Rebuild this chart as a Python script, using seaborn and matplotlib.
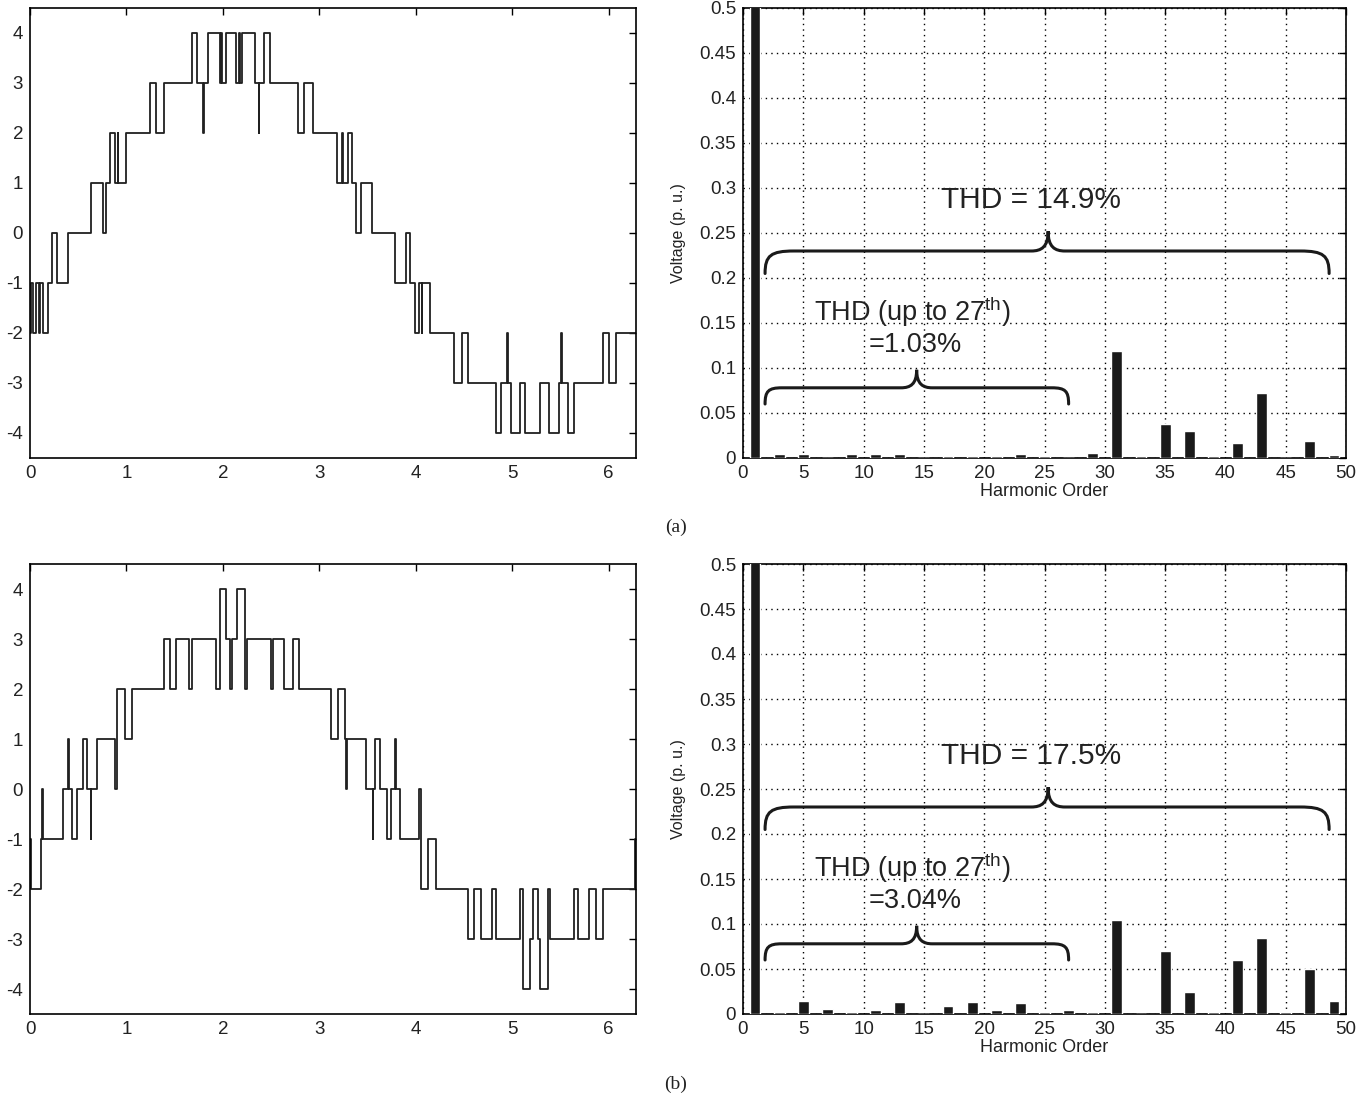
import numpy as np
import pandas as pd
import matplotlib
matplotlib.use("Agg")
import matplotlib.pyplot as plt
import seaborn as sns
from matplotlib.path import Path
from matplotlib.patches import PathPatch

# ---------------- data ----------------
# staircase waveform (a): switching instants (rad) and level after each instant
wave_a_x = [0.000, 0.007, 0.034, 0.059, 0.097, 0.105, 0.138, 0.190, 0.224, 0.276,
            0.397, 0.628, 0.752, 0.793, 0.828, 0.879, 0.910, 0.916, 0.993, 1.241,
            1.310, 1.386, 1.676, 1.731, 1.793, 1.800, 1.845, 1.966, 1.985, 1.992,
            2.034, 2.138, 2.170, 2.176, 2.197, 2.328, 2.372, 2.378, 2.431, 2.490,
            2.776, 2.845, 2.931, 3.186, 3.231, 3.248, 3.293, 3.341, 3.379, 3.428,
            3.541, 3.783, 3.903, 3.945, 3.990, 4.034, 4.060, 4.066, 4.145, 4.393,
            4.483, 4.541, 4.828, 4.886, 4.945, 4.951, 4.990, 5.076, 5.128, 5.283,
            5.379, 5.483, 5.510, 5.516, 5.576, 5.645, 5.938, 6.000, 6.076]
wave_a_y = [-2, -1, -2, -1, -2, -1, -2, -1, 0, -1,
            0, 1, 0, 1, 2, 1, 2, 1, 2, 3,
            2, 3, 4, 3, 2, 3, 4, 3, 4, 3,
            4, 3, 4, 3, 4, 3, 2, 3, 4, 3,
            2, 3, 2, 1, 2, 1, 2, 1, 0, 1,
            0, -1, 0, -1, -2, -1, -2, -1, -2, -3,
            -2, -3, -4, -3, -2, -3, -4, -3, -4, -3,
            -4, -3, -2, -3, -4, -3, -2, -3, -2]

# staircase waveform (b)
wave_b_x = [0.000, 0.007, 0.110, 0.128, 0.134, 0.338, 0.397, 0.402, 0.431, 0.483,
            0.545, 0.593, 0.628, 0.633, 0.690, 0.879, 0.903, 0.983, 1.059, 1.386,
            1.448, 1.510, 1.648, 1.683, 1.931, 1.966, 2.034, 2.069, 2.097, 2.145,
            2.224, 2.248, 2.500, 2.524, 2.638, 2.724, 2.786, 3.120, 3.197, 3.266,
            3.276, 3.283, 3.483, 3.552, 3.558, 3.576, 3.628, 3.697, 3.748, 3.783,
            3.790, 3.834, 4.034, 4.059, 4.128, 4.207, 4.541, 4.600, 4.679, 4.793,
            4.834, 5.076, 5.110, 5.179, 5.214, 5.266, 5.290, 5.369, 5.393, 5.645,
            5.679, 5.793, 5.869, 5.938, 6.276]
wave_b_y = [-1, -2, -1, 0, -1, 0, 1, 0, -1, 0,
            1, 0, -1, 0, 1, 0, 2, 1, 2, 3,
            2, 3, 2, 3, 2, 4, 3, 2, 3, 4,
            2, 3, 2, 3, 2, 3, 2, 1, 2, 1,
            0, 1, 0, -1, 0, 1, 0, -1, 0, 1,
            0, -1, 0, -2, -1, -2, -3, -2, -3, -2,
            -3, -2, -4, -3, -2, -3, -4, -2, -3, -2,
            -3, -2, -3, -2, -1]

# harmonic spectra (p.u.)
harmonics = [1, 3, 5, 7, 9, 11, 13, 15, 17, 19, 21, 23, 25,
             27, 29, 31, 33, 35, 37, 39, 41, 43, 45, 47, 49]
spec_a = [1.0, 0.004, 0.004, 0.0, 0.004, 0.004, 0.004, 0.0, 0.002, 0.002, 0.002, 0.004, 0.002,
          0.0, 0.006, 0.119, 0.002, 0.038, 0.030, 0.002, 0.017, 0.072, 0.0, 0.019, 0.003]
spec_b = [1.0, 0.002, 0.015, 0.006, 0.002, 0.004, 0.013, 0.0, 0.009, 0.013, 0.004, 0.012, 0.002,
          0.004, 0.002, 0.105, 0.0, 0.070, 0.024, 0.002, 0.060, 0.085, 0.002, 0.050, 0.014]

thd_total = ["THD = 14.9%", "THD = 17.5%"]
thd_27 = ["=1.03%", "=3.04%"]
panel_labels = ["(a)", "(b)"]

wave_xticks = [0, 1, 2, 3, 4, 5, 6]
wave_yticks = [-4, -3, -2, -1, 0, 1, 2, 3, 4]
spec_xticks = [0, 5, 10, 15, 20, 25, 30, 35, 40, 45, 50]
spec_yticks = [0, 0.05, 0.1, 0.15, 0.2, 0.25, 0.3, 0.35, 0.4, 0.45, 0.5]
spec_yticklabels = ["0", "0.05", "0.1", "0.15", "0.2", "0.25", "0.3", "0.35", "0.4", "0.45", "0.5"]

# ---------------- style ----------------
sns.set_theme(style="white")
plt.rcParams["font.family"] = ["Liberation Sans", "DejaVu Sans"]
plt.rcParams["mathtext.fontset"] = "custom"
plt.rcParams["mathtext.rm"] = "Liberation Sans"
plt.rcParams["axes.unicode_minus"] = False
plt.rcParams["axes.edgecolor"] = "black"
plt.rcParams["axes.linewidth"] = 1.2

W, H = 1366, 1101
fig = plt.figure(figsize=(W / 100, H / 100), dpi=100)
fig.patch.set_facecolor("white")

LINE = "#202020"
BAR = "#1a1a1a"


def add_ax(x0, x1, ytop, ybot):
    return fig.add_axes([x0 / W, 1 - ybot / H, (x1 - x0) / W, (ybot - ytop) / H])


def style_ticks(ax):
    ax.tick_params(direction="in", top=True, right=True, length=5, width=1,
                   colors="black", labelsize=13.5, pad=5, labelcolor="#222222")
    for s in ax.spines.values():
        s.set_color("black")
        s.set_linewidth(1.2)


def brace(ax, x0, x1, xt, ye, ym, yt, r1, r2):
    verts = [(x0, ye),
             (x0, ye + 0.8 * (ym - ye)), (x0 + 0.2 * r1, ym), (x0 + r1, ym),
             (xt - r2, ym),
             (xt - 0.4 * r2, ym), (xt, ym + 0.2 * (yt - ym)), (xt, yt),
             (xt, ym + 0.2 * (yt - ym)), (xt + 0.4 * r2, ym), (xt + r2, ym),
             (x1 - r1, ym),
             (x1 - 0.2 * r1, ym), (x1, ye + 0.8 * (ym - ye)), (x1, ye)]
    codes = [Path.MOVETO,
             Path.CURVE4, Path.CURVE4, Path.CURVE4,
             Path.LINETO,
             Path.CURVE4, Path.CURVE4, Path.CURVE4,
             Path.CURVE4, Path.CURVE4, Path.CURVE4,
             Path.LINETO,
             Path.CURVE4, Path.CURVE4, Path.CURVE4]
    ax.add_patch(PathPatch(Path(verts, codes), fill=False, lw=2.2,
                           edgecolor="#1a1a1a", capstyle="round", zorder=5))


rows = [(8, 458), (564, 1014)]
waves = [(wave_a_x, wave_a_y), (wave_b_x, wave_b_y)]
specs = [spec_a, spec_b]
label_y = [527, 1084]

for i in range(2):
    ytop, ybot = rows[i]
    # ---- waveform ----
    ax = add_ax(30, 636, ytop, ybot)
    wx = list(waves[i][0]) + [2 * np.pi]
    wy = list(waves[i][1]) + [waves[i][1][-1]]
    dfw = pd.DataFrame({"t": wx, "v": wy})
    sns.lineplot(data=dfw, x="t", y="v", ax=ax, drawstyle="steps-post",
                 color=LINE, lw=1.3, estimator=None, sort=False)
    ax.set_xlim(0, 2 * np.pi)
    ax.set_ylim(-4.5, 4.5)
    ax.set_xticks(wave_xticks)
    ax.set_yticks(wave_yticks)
    ax.set_yticklabels([str(v) for v in wave_yticks])
    ax.set_xlabel("")
    ax.set_ylabel("")
    style_ticks(ax)

    # ---- spectrum ----
    ax2 = add_ax(743, 1346, ytop, ybot)
    dfs = pd.DataFrame({"h": harmonics, "v": specs[i]})
    sns.barplot(data=dfs, x="h", y="v", ax=ax2, native_scale=True, width=0.45,
                color=BAR, saturation=1, errorbar=None, zorder=3)
    ax2.set_xlim(0, 50)
    ax2.set_ylim(0, 0.5)
    ax2.set_xticks(spec_xticks)
    ax2.set_xticklabels([str(v) for v in spec_xticks])
    ax2.set_yticks(spec_yticks)
    ax2.set_yticklabels(spec_yticklabels)
    ax2.grid(True, linestyle=(0, (1, 3)), color="black", lw=1.0, zorder=1)
    ax2.set_axisbelow(True)
    style_ticks(ax2)
    ax2.set_xlabel("Harmonic Order", fontsize=13, color="#222222")
    ax2.xaxis.set_label_coords(0.5, -0.055)
    ax2.set_ylabel("Voltage (p. u.)", fontsize=11.5, color="#222222")
    ax2.yaxis.set_label_coords(-0.095, 0.5)

    brace(ax2, 1.83, 48.6, 25.3, 0.205, 0.230, 0.252, 2.4, 1.4)
    brace(ax2, 1.83, 27.0, 14.4, 0.060, 0.078, 0.098, 1.4, 1.3)
    ax2.text(23.9, 0.287, thd_total[i], fontsize=21.5, ha="center", va="center",
             color="#222222", zorder=6)
    ax2.text(14.0, 0.163, r"THD (up to 27$^{\mathregular{th}}$)", fontsize=19.5,
             ha="center", va="center", color="#222222", zorder=6)
    ax2.text(14.3, 0.126, thd_27[i], fontsize=19.5, ha="center", va="center",
             color="#222222", zorder=6)

    fig.text(676 / W, 1 - label_y[i] / H, panel_labels[i], fontsize=14,
             family=["Liberation Serif", "DejaVu Serif"], ha="center", va="center",
             color="#222222")

fig.savefig("out.png", dpi=100, facecolor="white")
